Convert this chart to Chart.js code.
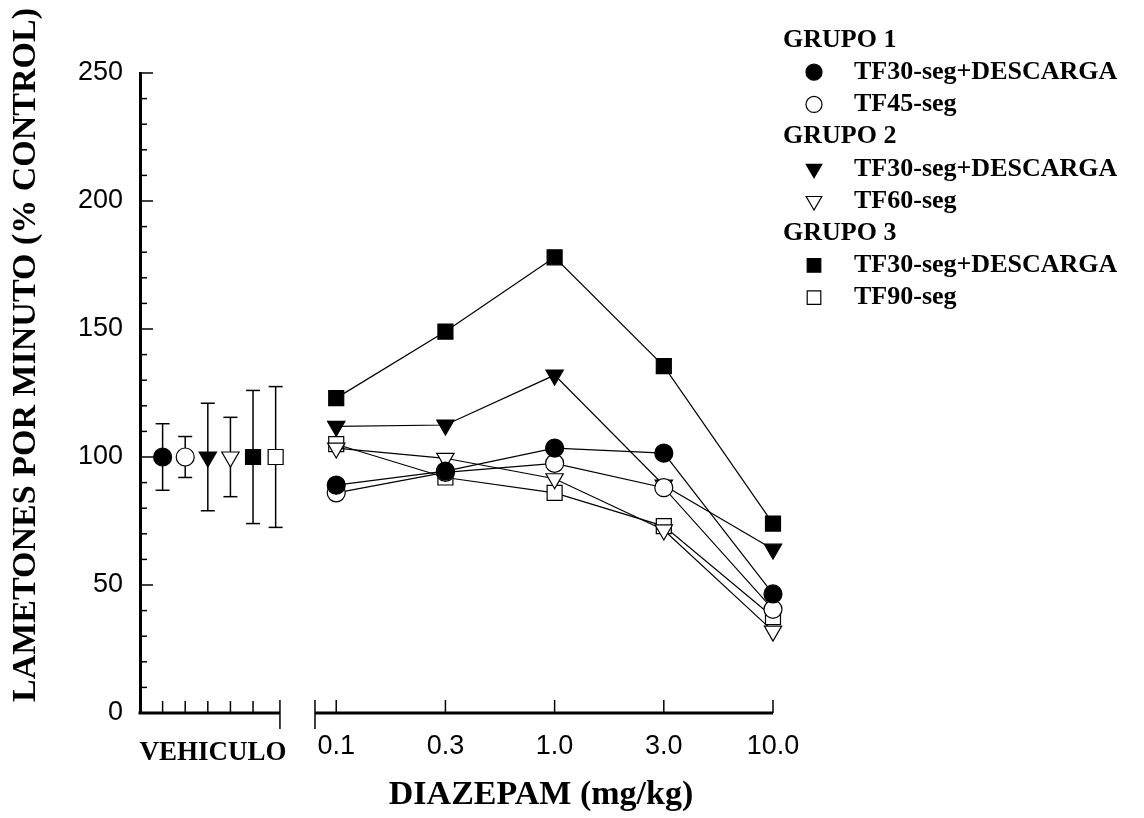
<!DOCTYPE html>
<html lang="es">
<head>
<meta charset="utf-8">
<title>Diazepam - lametones por minuto</title>
<script src="https://cdn.jsdelivr.net/npm/chart.js@4.4.1/dist/chart.umd.min.js"></script>
<style>
  html, body { margin: 0; padding: 0; background: #fff; }
  canvas { display: block; }
</style>
</head>
<body>
<canvas id="lickChart" width="1144" height="818"></canvas>
<script>
// Vehicle means (% of control) and their error bars, one per group/condition
const VEHICLE_MEAN = [100, 100, 100, 100, 100, 100];
const VEHICLE_ERR = [13, 8, 21, 15.5, 26, 27.5];

// Diazepam doses (mg/kg), shown as evenly spaced categories
const DOSE_LABELS = ['0.1', '0.3', '1.0', '3.0', '10.0'];

// Licks per minute (% control) at each dose
const G1_TF30_SHOCK = [89, 94.5, 103.5, 101.5, 46.5];
const G1_TF45 = [86, 94, 97.5, 88, 40.5];
const G2_TF30_SHOCK = [112, 112.5, 132, 89, 64];
const G2_TF60 = [103.5, 99.5, 91.5, 71.5, 32];
const G3_TF30_SHOCK = [123, 149, 178, 135.5, 74];
const G3_TF90 = [105, 92, 86, 73, 37.5];

const Y_TICKS = [0, 50, 100, 150, 200, 250];

// x layout on a single linear axis: vehicle slots 1..6, then the doses after the break
const X_MAX = 28;
const VEHICLE_SLOT = i => i + 1;
const DOSE_SLOT = i => 8.68 + i * 4.83;
const LEFT_END = 6.19;
const RIGHT_START = 7.74;

const SERIF = '"Liberation Serif", "Times New Roman", serif';
const SANS = '"Liberation Sans", Arial, sans-serif';

const seriesDefs = [
  { label: 'TF30-seg+DESCARGA', values: G1_TF30_SHOCK, style: 'circle', fill: '#000', r: 9, rot: 0 },
  { label: 'TF45-seg', values: G1_TF45, style: 'circle', fill: '#fff', r: 9, rot: 0 },
  { label: 'TF60-seg', values: G2_TF60, style: 'triangle', fill: '#fff', r: 10, rot: 180 },
  { label: 'TF90-seg', values: G3_TF90, style: 'rect', fill: '#fff', r: 10.6, rot: 0 },
  { label: 'TF30-seg+DESCARGA', values: G2_TF30_SHOCK, style: 'triangle', fill: '#000', r: 10, rot: 180 },
  { label: 'TF30-seg+DESCARGA', values: G3_TF30_SHOCK, style: 'rect', fill: '#000', r: 10.6, rot: 0 }
];
// vehicle column index for each series above
const vehicleIndex = [0, 1, 3, 5, 2, 4];

const datasets = seriesDefs.map((s, k) => {
  const vi = vehicleIndex[k];
  const pts = [{ x: VEHICLE_SLOT(vi), y: VEHICLE_MEAN[vi] }];
  s.values.forEach((v, i) => pts.push({ x: DOSE_SLOT(i), y: v }));
  return {
    label: s.label,
    data: pts,
    borderColor: '#000',
    borderWidth: 1.2,
    pointStyle: s.style,
    pointRotation: s.rot,
    pointRadius: s.r,
    pointBackgroundColor: s.fill,
    pointBorderColor: '#000',
    pointBorderWidth: 1.2,
    pointHoverRadius: s.r,
    tension: 0,
    clip: false,
    // no line between the vehicle point and the first dose
    segment: { borderColor: c => c.p0DataIndex === 0 ? 'rgba(0,0,0,0)' : undefined }
  };
});

function strokeLine(ctx, x1, y1, x2, y2) {
  ctx.beginPath();
  ctx.moveTo(x1, y1);
  ctx.lineTo(x2, y2);
  ctx.stroke();
}

// error bars on the vehicle points, drawn under the markers
const errorBars = {
  id: 'errorBars',
  beforeDatasetsDraw(chart) {
    const { ctx, scales: { x, y } } = chart;
    ctx.save();
    ctx.strokeStyle = '#000';
    ctx.lineWidth = 1.5;
    VEHICLE_MEAN.forEach((m, i) => {
      const px = x.getPixelForValue(VEHICLE_SLOT(i));
      const top = y.getPixelForValue(m + VEHICLE_ERR[i]);
      const bot = y.getPixelForValue(m - VEHICLE_ERR[i]);
      strokeLine(ctx, px, top, px, bot);
      strokeLine(ctx, px - 7, top, px + 7, top);
      strokeLine(ctx, px - 7, bot, px + 7, bot);
    });
    ctx.restore();
  }
};

// broken x axis and inward tick marks
const brokenAxis = {
  id: 'brokenAxis',
  beforeDatasetsDraw(chart) {
    const { ctx, scales: { x, y }, chartArea } = chart;
    const base = chartArea.bottom;
    const left = chartArea.left;
    ctx.save();
    ctx.strokeStyle = '#000';

    ctx.lineWidth = 1.5;
    for (let v = 0; v <= 250; v += 10) {
      const py = y.getPixelForValue(v);
      strokeLine(ctx, left, py, left + (v % 50 === 0 ? 13 : 7), py);
    }

    const xl = x.getPixelForValue(LEFT_END);
    const xr = x.getPixelForValue(RIGHT_START);
    for (let i = 0; i < 5; i++) {
      const px = x.getPixelForValue(VEHICLE_SLOT(i));
      strokeLine(ctx, px, base, px, base - 12);
    }
    DOSE_LABELS.forEach((_, i) => {
      const px = x.getPixelForValue(DOSE_SLOT(i));
      strokeLine(ctx, px, base, px, base - 13);
    });
    strokeLine(ctx, xl, base - 13, xl, base + 16);
    strokeLine(ctx, xr, base - 13, xr, base + 16);

    ctx.lineWidth = 3;
    strokeLine(ctx, left - 1.5, base, xl, base);
    strokeLine(ctx, xr, base, x.getPixelForValue(DOSE_SLOT(DOSE_LABELS.length - 1)), base);
    ctx.restore();
  }
};

// axis titles and grouped legend
const annotations = {
  id: 'annotations',
  afterDraw(chart) {
    const { ctx } = chart;
    ctx.save();
    ctx.fillStyle = '#000';
    ctx.textAlign = 'center';
    ctx.textBaseline = 'middle';

    ctx.font = 'bold 27px ' + SERIF;
    ctx.fillText('VEHICULO', 213, 753);
    ctx.font = 'bold 34px ' + SERIF;
    ctx.fillText('DIAZEPAM (mg/kg)', 541, 795);

    ctx.save();
    ctx.translate(26, 355);
    ctx.rotate(-Math.PI / 2);
    ctx.font = 'bold 34px ' + SERIF;
    ctx.fillText('LAMETONES POR MINUTO (% CONTROL)', 0, 0);
    ctx.restore();

    const rows = [
      { head: 'GRUPO 1' }, { ds: 0 }, { ds: 1 },
      { head: 'GRUPO 2' }, { ds: 4 }, { ds: 2 },
      { head: 'GRUPO 3' }, { ds: 5 }, { ds: 3 }
    ];
    ctx.textAlign = 'left';
    ctx.font = 'bold 26px ' + SERIF;
    rows.forEach((row, i) => {
      const ry = 40 + i * 32.2;
      if (row.head) {
        ctx.fillText(row.head, 783, ry);
        return;
      }
      const s = seriesDefs[row.ds];
      ctx.fillStyle = s.fill;
      ctx.strokeStyle = '#000';
      ctx.lineWidth = 1.2;
      Chart.helpers.drawPoint(ctx, {
        pointStyle: s.style,
        radius: s.r - 1,
        rotation: s.rot,
        borderWidth: 1.2
      }, 814, ry);
      ctx.fillStyle = '#000';
      ctx.fillText(s.label, 854, ry);
    });
    ctx.restore();
  }
};

const ctx = document.getElementById('lickChart').getContext('2d');
new Chart(ctx, {
  type: 'line',
  data: { datasets },
  options: {
    responsive: false,
    animation: false,
    layout: { padding: { top: 73, right: 371, left: 0, bottom: 0 } },
    scales: {
      x: {
        type: 'linear',
        min: 0,
        max: X_MAX,
        grid: { display: false, drawTicks: false },
        border: { display: false },
        afterBuildTicks: s => { s.ticks = DOSE_LABELS.map((_, i) => ({ value: DOSE_SLOT(i) })); },
        afterFit: s => { s.height = 105; },
        ticks: {
          autoSkip: false,
          maxRotation: 0,
          padding: 17,
          color: '#000',
          font: { family: SANS, size: 27 },
          callback: v => DOSE_LABELS[DOSE_LABELS.findIndex((_, i) => Math.abs(DOSE_SLOT(i) - v) < 0.01)]
        }
      },
      y: {
        min: 0,
        max: 250,
        grid: { display: false, drawTicks: false },
        border: { display: true, width: 3, color: '#000' },
        afterBuildTicks: s => { s.ticks = Y_TICKS.map(v => ({ value: v })); },
        afterFit: s => { s.width = 140; },
        ticks: {
          padding: 17,
          color: '#000',
          font: { family: SANS, size: 27 }
        }
      }
    },
    plugins: {
      legend: { display: false },
      tooltip: { enabled: false }
    }
  },
  plugins: [errorBars, brokenAxis, annotations]
});
</script>
</body>
</html>
